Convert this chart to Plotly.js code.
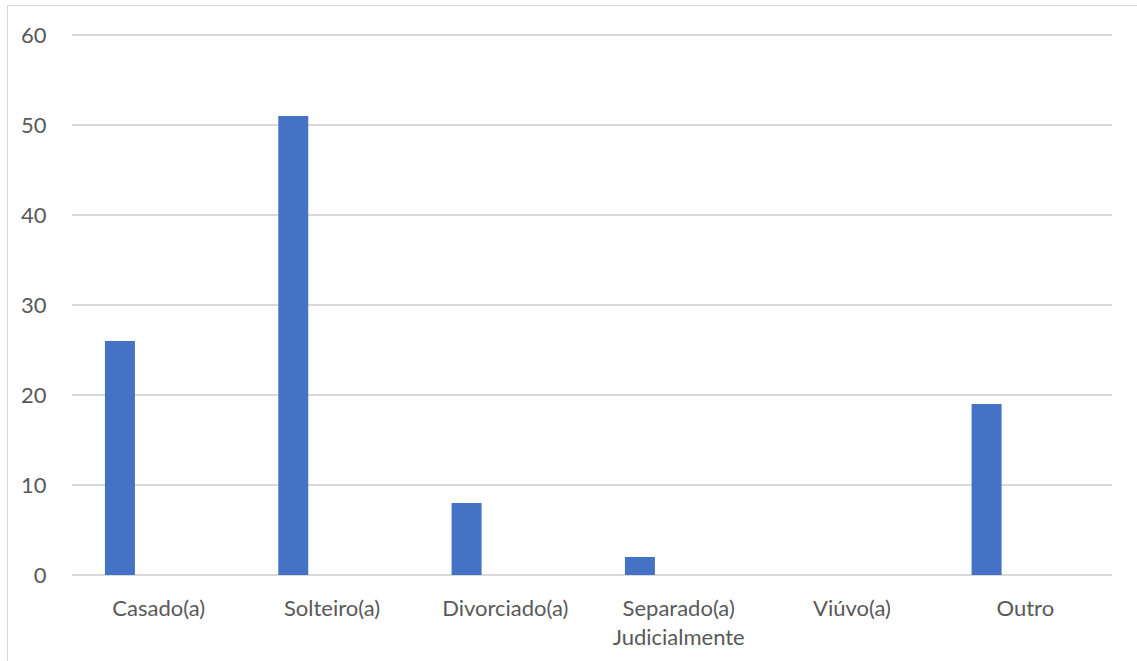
<!DOCTYPE html>
<html>
<head>
<meta charset="utf-8">
<script src="https://cdn.plot.ly/plotly-3.0.1.min.js"></script>
<style>
html, body { margin: 0; padding: 0; background: #fff; }
#chart { width: 1137px; height: 661px; position: absolute; left: 0; top: 0; }
#frame { position: absolute; left: 7px; top: 5px; width: 1200px; height: 700px;
  border-left: 1.5px solid #d9d9d9; border-top: 1.5px solid #d9d9d9; pointer-events: none; }
</style>
</head>
<body>
<div id="chart"></div>
<div id="frame"></div>
<script>
const categories = ["Casado(a)", "Solteiro(a)", "Divorciado(a)", "Separado(a)<br>Judicialmente", "Viúvo(a)", "Outro"];
const values = [26, 51, 8, 2, 0, 19];
const yTicks = [0, 10, 20, 30, 40, 50, 60];

const trace = {
  type: 'bar',
  x: categories,
  y: values,
  marker: { color: '#4472C4' },
  width: 0.173,
  offset: -0.31,
  hoverinfo: 'x+y'
};

const layout = {
  width: 1137,
  height: 661,
  margin: { l: 72, r: 25, t: 26, b: 86 },
  paper_bgcolor: 'rgba(0,0,0,0)',
  plot_bgcolor: 'rgba(0,0,0,0)',
  showlegend: false,
  font: { family: 'Lato, "Open Sans", sans-serif', size: 22, color: '#595959' },
  xaxis: {
    type: 'category',
    range: [-0.5, 5.5],
    showgrid: false,
    showline: false,
    zeroline: false,
    ticks: 'outside',
    ticklen: 14,
    tickcolor: 'rgba(0,0,0,0)',
    tickfont: { size: 22, color: '#595959' }
  },
  yaxis: {
    range: [0, 61],
    tickvals: yTicks,
    ticktext: yTicks.map(String),
    showgrid: true,
    gridcolor: '#d9d9d9',
    gridwidth: 1.3,
    zeroline: true,
    zerolinecolor: '#d9d9d9',
    zerolinewidth: 1.3,
    showline: false,
    ticks: 'outside',
    ticklen: 20,
    tickcolor: 'rgba(0,0,0,0)',
    tickfont: { size: 22, color: '#595959' }
  }
};

Plotly.newPlot('chart', [trace], layout, { displayModeBar: false, staticPlot: true });
</script>
</body>
</html>
